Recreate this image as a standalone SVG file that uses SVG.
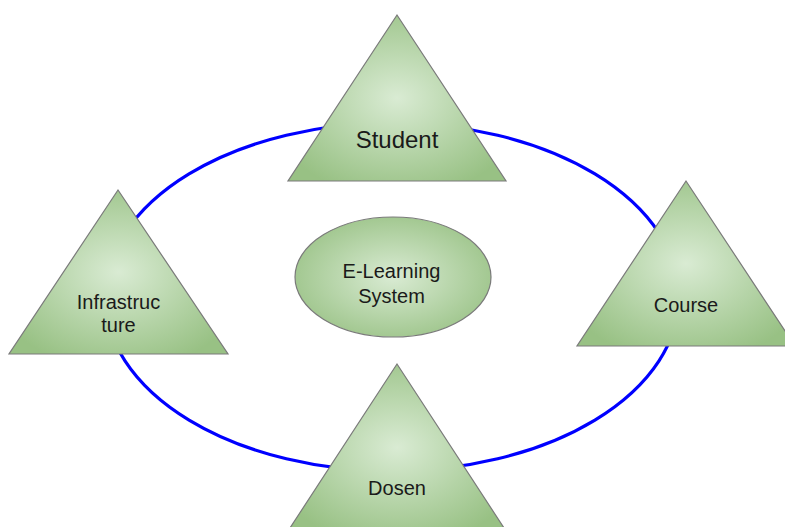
<svg xmlns="http://www.w3.org/2000/svg" width="785" height="527" viewBox="0 0 785 527">
  <defs>
    <radialGradient id="greenFill" cx="50%" cy="50%" r="60%">
      <stop offset="0" stop-color="#d9ebd3"/>
      <stop offset="1" stop-color="#98c184"/>
    </radialGradient>
    <style>
      .shape { fill: url(#greenFill); stroke: #7a7a7a; stroke-width: 1.2; }
      .ring { fill: none; stroke: #0000ff; stroke-width: 3.2; }
      .label { font-family: "Liberation Sans", Arial, sans-serif; font-size: 20px; fill: #1a1a1a; text-anchor: middle; }
      .big { font-size: 24px; }
    </style>
  </defs>
  <rect width="785" height="527" fill="#ffffff"/>

  <!-- ring linking the four parts -->
  <g id="connectors">
    <ellipse class="ring" cx="392" cy="297" rx="287" ry="174"/>
  </g>

  <g id="core">
    <ellipse class="shape" cx="393" cy="277" rx="98" ry="60"/>
    <text class="label" x="391.5" y="278">E-Learning</text>
    <text class="label" x="391.5" y="302.5">System</text>
  </g>

  <g id="student">
    <polygon class="shape" points="397,15 288,181 506,181"/>
    <text class="label big" x="397" y="148">Student</text>
  </g>

  <g id="course">
    <polygon class="shape" points="686,181 577,346 795,346"/>
    <text class="label" x="686" y="312">Course</text>
  </g>

  <g id="infrastructure">
    <polygon class="shape" points="118,190 9,354 228,354"/>
    <text class="label" x="118.5" y="309">Infrastruc</text>
    <text class="label" x="118.5" y="332">ture</text>
  </g>

  <g id="dosen">
    <polygon class="shape" points="397,364 288,531 506,531"/>
    <text class="label" x="397" y="494.5">Dosen</text>
  </g>
</svg>
